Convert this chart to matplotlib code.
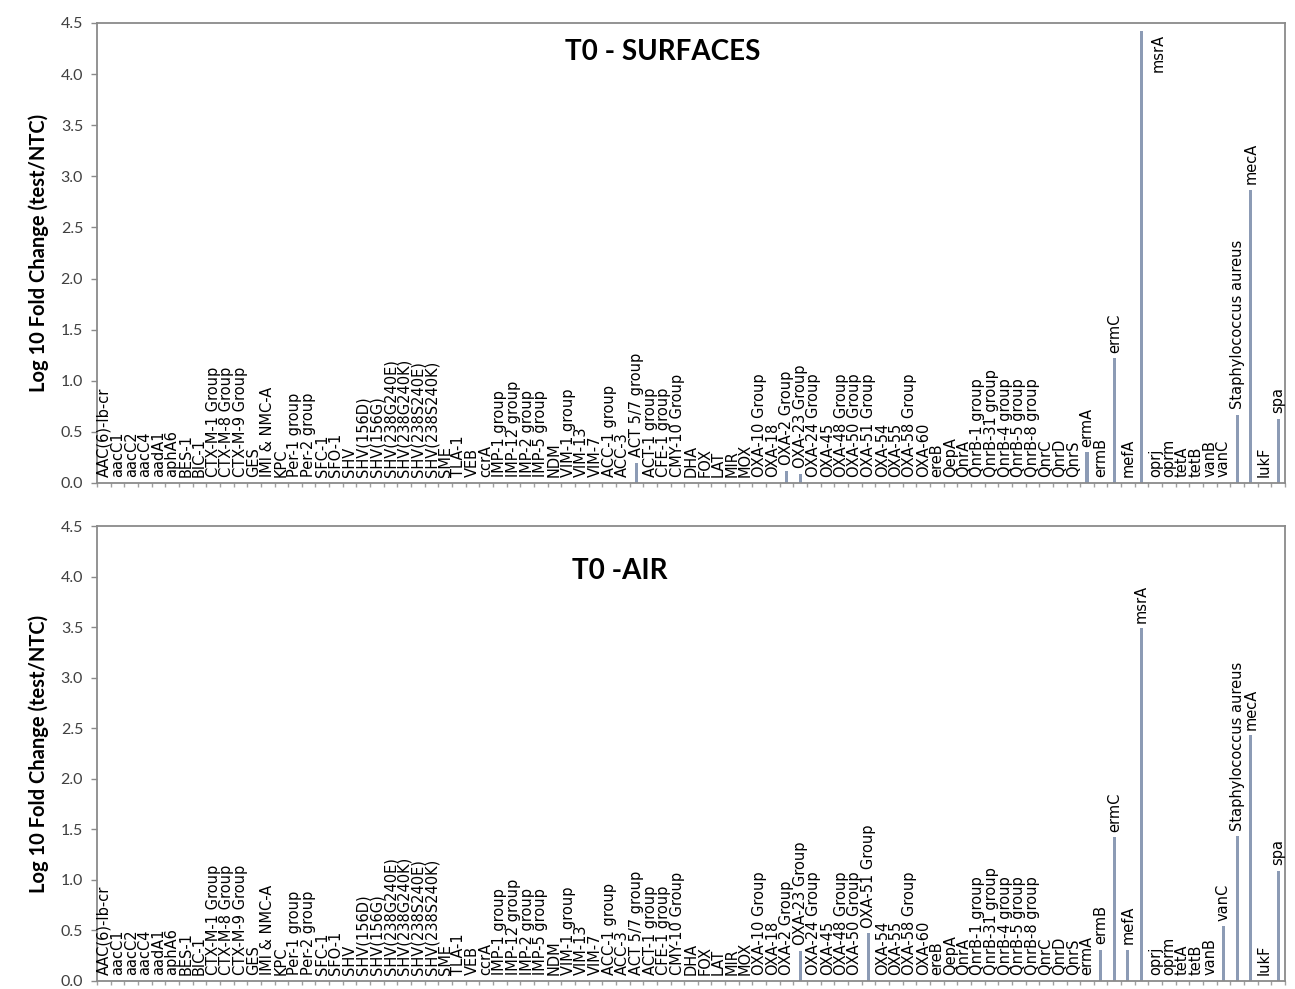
import matplotlib
matplotlib.use('Agg')
import matplotlib.pyplot as plt
import numpy as np

genes = [
    "AAC(6)-Ib-cr", "aacC1", "aacC2", "aacC4", "aadA1", "aphA6", "BES-1", "BIC-1",
    "CTX-M-1 Group", "CTX-M-8 Group", "CTX-M-9 Group", "GES", "IMI & NMC-A", "KPC",
    "Per-1 group", "Per-2 group", "SFC-1", "SFO-1", "SHV", "SHV(156D)", "SHV(156G)",
    "SHV(238G240E)", "SHV(238G240K)", "SHV(238S240E)", "SHV(238S240K)", "SME", "TLA-1",
    "VEB", "ccrA", "IMP-1 group", "IMP-12 group", "IMP-2 group", "IMP-5 group", "NDM",
    "VIM-1 group", "VIM-13", "VIM-7", "ACC-1 group", "ACC-3", "ACT 5/7 group",
    "ACT-1 group", "CFE-1 group", "CMY-10 Group", "DHA", "FOX", "LAT", "MIR", "MOX",
    "OXA-10 Group", "OXA-18", "OXA-2 Group", "OXA-23 Group", "OXA-24 Group", "OXA-45",
    "OXA-48 Group", "OXA-50 Group", "OXA-51 Group", "OXA-54", "OXA-55", "OXA-58 Group",
    "OXA-60", "ereB", "QepA", "QnrA", "QnrB-1 group", "QnrB-31 group", "QnrB-4 group",
    "QnrB-5 group", "QnrB-8 group", "QnrC", "QnrD", "QnrS", "ermA", "ermB", "ermC",
    "mefA", "msrA", "oprj", "oprm", "tetA", "tetB", "vanB", "vanC",
    "Staphylococcus aureus", "mecA", "lukF", "spa",
]

# T0 - SURFACES (log10 fold change), in gene order
surfaces = [
    0, 0, 0, 0, 0, 0, 0, 0, 0, 0,
    0, 0, 0, 0, 0, 0, 0, 0, 0, 0,
    0, 0, 0, 0, 0, 0, 0, 0, 0, 0,
    0, 0, 0, 0, 0, 0, 0, 0, 0, 0.20,
    0, 0, 0, 0, 0, 0, 0, 0, 0, 0,
    0.12, 0.09, 0, 0, 0, 0, 0, 0, 0, 0,
    0, 0, 0, 0, 0, 0, 0, 0, 0, 0,
    0, 0, 0.30, 0, 1.22, 0, 4.42, 0, 0, 0,
    0, 0, 0, 0.67, 2.87, 0, 0.63,
]

# T0 - AIR (log10 fold change), in gene order
air = [
    0, 0, 0, 0, 0, 0, 0, 0, 0, 0,
    0, 0, 0, 0, 0, 0, 0, 0, 0, 0,
    0, 0, 0, 0, 0, 0, 0, 0, 0, 0,
    0, 0, 0, 0, 0, 0, 0, 0, 0, 0,
    0, 0, 0, 0, 0, 0, 0, 0, 0, 0,
    0, 0.30, 0, 0, 0, 0, 0.47, 0, 0, 0,
    0, 0, 0, 0, 0, 0, 0, 0, 0, 0,
    0, 0, 0, 0.31, 1.42, 0.31, 3.49, 0, 0, 0,
    0, 0, 0.54, 1.43, 2.43, 0, 1.09,
]

panel_titles = ["T0 - SURFACES", "T0 -AIR"]
y_ticks = [0.0, 0.5, 1.0, 1.5, 2.0, 2.5, 3.0, 3.5, 4.0, 4.5]
y_label = "Log 10 Fold Change (test/NTC)"

BAR_COLOR = "#8c9bb5"
SPINE_COLOR = "#8a8a8a"
LABEL_FONT = ["DejaVu Sans"]
MAIN_FONT = ["Lato", "DejaVu Sans"]

fig = plt.figure(figsize=(12.95, 9.89), dpi=100)
W, H = 1295.0, 989.0
ax1 = fig.add_axes([97 / W, 1 - 483 / H, 1188 / W, 460 / H])
ax2 = fig.add_axes([97 / W, 1 - 981 / H, 1188 / W, 455 / H])

title_pos = [(0.476, 0.937), (0.44, 0.902)]

for ax, vals, title, tpos in zip([ax1, ax2], [surfaces, air], panel_titles, title_pos):
    n = len(genes)
    x = np.arange(n)
    ax.bar(x, vals, width=0.22, color=BAR_COLOR, zorder=2)
    ax.set_xlim(-0.5, n - 0.5)
    ax.set_ylim(0, 4.5)
    ax.set_yticks(y_ticks)
    ax.set_yticklabels([f"{t:.1f}" for t in y_ticks], family=MAIN_FONT, fontsize=11.5,
                       color="#404040")
    ax.set_xticks([])
    ax.set_xticks(np.arange(n + 1) - 0.5, minor=True)
    ax.tick_params(axis='x', which='minor', length=3, width=1, color="#a0a0a0",
                   direction='out')
    ax.tick_params(axis='y', which='major', length=4, width=1, color=SPINE_COLOR,
                   direction='out', pad=6)
    for s in ax.spines.values():
        s.set_color(SPINE_COLOR)
        s.set_linewidth(1.3)
    ax.set_ylabel(y_label, family=MAIN_FONT, fontsize=14.5, fontweight='bold',
                  labelpad=8)
    ax.text(tpos[0], tpos[1], title, transform=ax.transAxes, ha='center',
            va='center', family=MAIN_FONT, fontsize=20, fontweight='bold')
    ymax = ax.get_ylim()[1]
    for i, (g, v) in enumerate(zip(genes, vals)):
        if v > 0.88 * ymax:
            ax.annotate(g, (i, v), xytext=(12, -2), textcoords='offset points',
                        rotation=90, ha='center', va='top', fontsize=10.5,
                        family=LABEL_FONT)
        else:
            ax.annotate(g, (i, v), xytext=(0, 4), textcoords='offset points',
                        rotation=90, ha='center', va='bottom', fontsize=10.5,
                        family=LABEL_FONT)

fig.align_ylabels([ax1, ax2])
fig.savefig("out.png", dpi=100)
